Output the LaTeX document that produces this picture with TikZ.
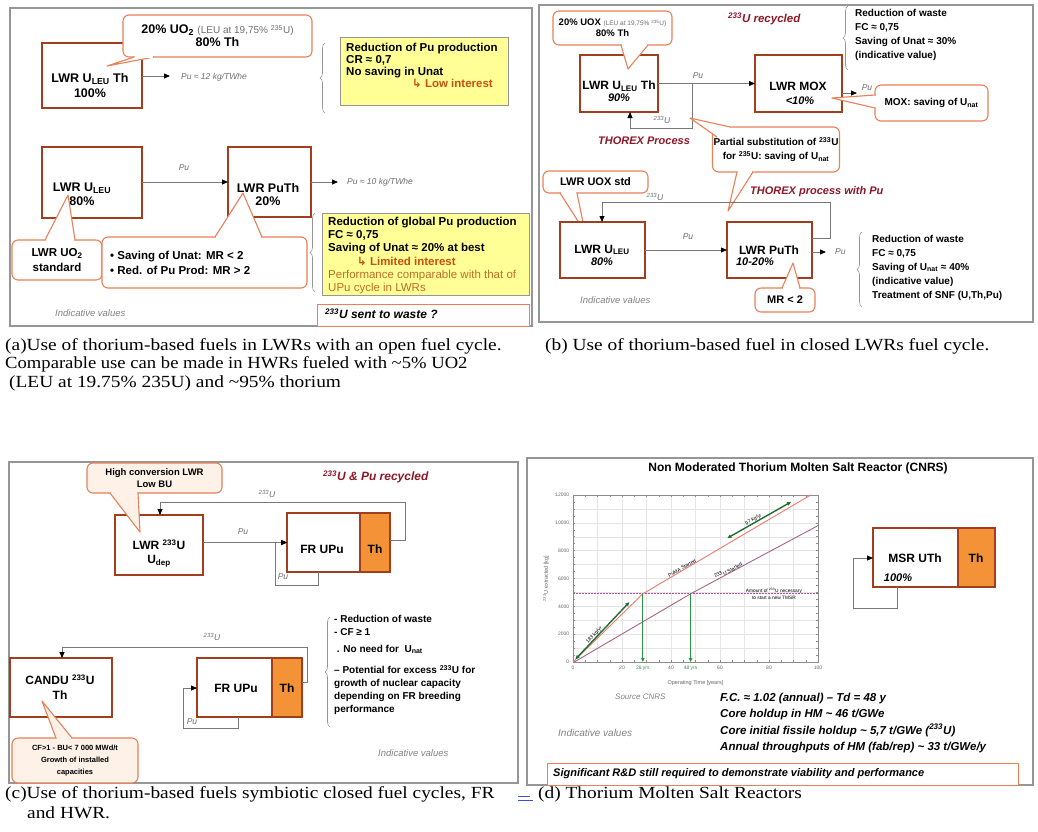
\documentclass[tikz,border=0pt]{standalone}
\usepackage{fontspec}
\setmainfont{Liberation Sans}
\newfontfamily\capfont[FakeStretch=1.14]{Liberation Serif}
\newfontfamily\capfontb[FakeStretch=1.096]{Liberation Serif}
\newfontfamily\symfont{DejaVu Sans}
\usetikzlibrary{arrows.meta,decorations.pathreplacing,calc}
\definecolor{framegray}{RGB}{150,150,150}
\definecolor{boxred}{RGB}{160,62,30}
\definecolor{thorange}{RGB}{243,146,55}
\definecolor{calor}{RGB}{232,128,88}
\definecolor{peach}{RGB}{253,241,232}
\definecolor{ylw}{RGB}{255,255,150}
\definecolor{ygray}{RGB}{150,150,150}
\definecolor{conngray}{RGB}{120,120,120}
\definecolor{notegray}{RGB}{110,110,110}
\definecolor{indgray}{RGB}{130,130,130}
\definecolor{tred}{RGB}{140,24,40}
\definecolor{otxt}{RGB}{200,80,20}
\definecolor{ptxt}{RGB}{190,110,40}
\definecolor{redc}{RGB}{240,120,110}
\definecolor{mauvec}{RGB}{170,100,130}
\definecolor{grc}{RGB}{40,150,70}
\definecolor{dgrc}{RGB}{30,110,50}
\definecolor{dotc}{RGB}{170,80,170}
\definecolor{linkblue}{RGB}{60,80,200}
\newcommand{\fz}[1]{\fontsize{#1}{#1}\selectfont}
\newcommand{\fzl}[2]{\fontsize{#1}{#2}\selectfont}
\newcommand{\calltail}[4]{%
  \draw[calor, line width=1.1pt, fill=#4, line join=round] #1 -- #2 -- #3;
  \draw[#4, line width=1.7pt, shorten <=1pt, shorten >=1pt] #1 -- #3;}
\tikzset{
  panel/.style={draw=framegray, line width=1.2pt},
  rbox/.style={draw=boxred, line width=2.6pt, fill=white, inner sep=0pt, outer sep=0pt},
  thbox/.style={rbox, fill=thorange},
  callbox/.style={draw=calor, line width=1.1pt, fill=white, rounded corners=6pt, inner sep=1pt, align=center, font=\bfseries\fz{10}},
  ybox/.style={draw=ygray, fill=ylw, line width=0.8pt, inner sep=0pt},
  obox/.style={draw=calor, fill=white, line width=1pt, inner sep=0pt},
  conn/.style={draw=conngray, line width=0.8pt},
  arr/.style={conn, -{Triangle[length=6pt,width=5pt,color=black]}},
  bxt/.style={inner sep=0pt, font=\bfseries\fz{12}},
  pct/.style={inner sep=0pt, font=\bfseries\itshape\fz{11}},
  note/.style={inner sep=0pt, text=notegray, font=\itshape\fz{8.5}},
  ind/.style={inner sep=0pt, text=indgray, font=\itshape\fz{9.5}, anchor=west},
  ttl/.style={inner sep=0pt, text=tred, font=\bfseries\itshape\fz{11.5}, anchor=west},
  txt/.style={inner sep=0pt, align=left, font=\bfseries\fz{10}},
  captxt/.style={inner sep=0pt, anchor=west, font=\capfont\fz{17}},
  bracestyle/.style={decorate, decoration={brace, amplitude=5pt}, draw=ygray, line width=0.6pt},
  gridl/.style={draw=black!10, line width=0.4pt},
  axl/.style={draw=black!45, line width=0.5pt},
  tick/.style={inner sep=0pt, text=black!60, font=\fz{5}},
  plab/.style={inner sep=0.5pt, font=\fz{5}, anchor=south},
}
\begin{document}
\begin{tikzpicture}[x=1pt,y=-1pt]
\useasboundingbox (0,0) rectangle (1038,831);
\fill[white] (0,0) rectangle (1038,831);

%================ Panel (a) ================
\draw[panel] (10,8) rectangle (532,326);
\node[rbox, minimum width=100, minimum height=65] (A1) at (92,75.5) {};
\node[bxt, font=\bfseries\fz{12.5}] (A1t) at (90,79) {LWR U\textsubscript{LEU} Th};
\node[bxt, font=\bfseries\fz{12.5}] (A1p) at (90,93) {100\%};
\node[rbox, minimum width=100, minimum height=71] (A2) at (92,182.5) {};
\node[bxt, font=\bfseries\fz{12.5}] (A2t) at (82,188) {LWR U\textsubscript{LEU}};
\node[bxt, font=\bfseries\fz{12.5}] (A2p) at (82,201) {80\%};
\node[rbox, minimum width=83, minimum height=70] (A3) at (269.5,182) {};
\node[bxt, font=\bfseries\fz{12.5}] (A3t) at (268,188) {LWR PuTh};
\node[bxt, font=\bfseries\fz{12.5}] (A3p) at (268,201) {20\%};

\coordinate (pa1) at (170,76);
\draw[arr] (A1.east |- pa1) -- (pa1);
\node[note, anchor=west] (pa1t) at (181,77) {Pu ≈ 12 kg/TWhe};
\draw[arr] (A2.east |- A3.west) -- (A3.west);
\node[note] (pa2t) at (184,168) {Pu};
\coordinate (pa3) at (338,182);
\draw[arr] (A3.east) -- (pa3);
\node[note, anchor=west] (pa3t) at (347,182) {Pu ≈ 10 kg/TWhe};

\node[callbox, minimum width=189, minimum height=42, font=\bfseries\fzl{12.5}{13}] (CA1) at (217.5,36)
  {20\% UO\textsubscript{2} {\mdseries\color{notegray}\fz{10}(LEU at 19,75\% \textsuperscript{235}U)}\\80\% Th};
\calltail{(134,57)}{(107,66)}{(154,57)}{white}

\draw[bracestyle] (325,113) -- (325,43);
\node[ybox, minimum width=168, minimum height=68] (Y1) at (424,71) {};
\node[txt, anchor=north west, font=\bfseries\fzl{11.5}{12}] (Y1t) at (346,43)
  {Reduction of Pu production\\CR ≈ 0,7\\No saving in Unat\\
   \hspace*{66pt}{\color{otxt}{\symfont ↳} Low interest}};

\node[callbox, minimum width=90, minimum height=40, font=\bfseries\fzl{11.5}{15}] (CA2) at (57,260) {LWR UO\textsubscript{2}\\standard};
\calltail{(45,240)}{(68,195)}{(75,240)}{white}
\node[callbox, minimum width=205, minimum height=51] (CA3) at (204.5,262.5) {};
\calltail{(215,237)}{(243,193)}{(262,237)}{white}
\node[txt, anchor=west, font=\bfseries\fzl{11.5}{15}] (CA3t) at (110,263)
  {• Saving of Unat: MR < 2\\• Red. of Pu Prod: MR > 2};

\draw[bracestyle] (315,292) -- (315,213);
\node[ybox, minimum width=207, minimum height=82] (Y2) at (425.5,254) {};
\node[txt, anchor=north west, font=\bfseries\fzl{11.5}{13.2}] (Y2t) at (328,217)
  {Reduction of global Pu production\\FC ≈ 0,75\\Saving of Unat ≈ 20\% at best\\
   \hspace*{29pt}{\color{otxt}{\symfont ↳} Limited interest}\\
   {\mdseries\color{ptxt}Performance comparable with that of}\\
   {\mdseries\color{ptxt}UPu cycle in LWRs}};

\node[ind] (Ia) at (55,313) {Indicative values};
\node[obox, minimum width=212, minimum height=22] (W) at (423,315) {};
\node[inner sep=0pt, anchor=west, font=\bfseries\itshape\fz{12}] (Wt) at (325,314) {\textsuperscript{233}U sent to waste ?};

\node[captxt] (capa1) at (5,346) {(a)Use of thorium-based fuels in LWRs with an open fuel cycle.};
\node[captxt, font=\capfontb\fz{17}] (capa2) at (5,364.5) {Comparable use can be made in HWRs fueled with \textasciitilde5\% UO2};
\node[captxt] (capa3) at (9,383) {(LEU at 19.75\% 235U) and \textasciitilde95\% thorium};

%================ Panel (b) ================
\draw[panel] (539,5) rectangle (1033,322);
\node[ttl] (Bt) at (728,19) {\textsuperscript{233}U recycled};
\node[rbox, minimum width=78, minimum height=57] (B1) at (619,83.5) {};
\node[bxt] (B1t) at (619,86) {LWR U\textsubscript{LEU} Th};
\node[pct] (B1p) at (619,98) {90\%};
\node[rbox, minimum width=87, minimum height=57] (B2) at (798.5,83.5) {};
\node[bxt] (B2t) at (798,86) {LWR MOX};
\node[pct] (B2p) at (800,101) {<10\%};
\draw[arr] (B1.east) -- (B2.west);
\node[note] (pb0t) at (698,76) {Pu};
\coordinate (bl1) at (692,83.5);
\coordinate (bl2) at (692,128);
\coordinate (bl3) at (630,128);
\draw[arr] (bl1) -- (bl2) -- (bl3) -- (bl3 |- B1.south);
\node[note] (bl3t) at (662,120) {\textsuperscript{233}U};
\coordinate (pb1) at (857,93);
\draw[arr] (B2.east |- pb1) -- (pb1);
\node[note] (pb1t) at (867,88) {Pu};

\node[callbox, minimum width=119, minimum height=34, font=\bfseries\fzl{9.5}{11}] (CB1) at (612.5,28)
  {20\% UOX {\mdseries\color{notegray}\fz{6.5}(LEU at 19,75\% \textsuperscript{235}U)}\\80\% Th};
\calltail{(621,45)}{(628,69)}{(648,45)}{white}
\node[callbox, minimum width=113, minimum height=36] (CB2) at (931.5,103) {MOX: saving of U\textsubscript{nat}};
\calltail{(875,95)}{(832,98)}{(875,108)}{white}

\draw[bracestyle] (848,70) -- (848,6);
\node[txt, anchor=north west, font=\bfseries\fzl{10}{14}] (Bbr1) at (855,9)
  {Reduction of waste\\FC ≈ 0,75\\Saving of Unat ≈ 30\%\\(indicative value)};

\node[ttl, font=\bfseries\itshape\fz{11}] (Bth1) at (598,141) {THOREX Process};
\node[callbox, minimum width=118, minimum height=45, font=\bfseries\fzl{10}{14}] (CB3) at (776,149.5)
  {Partial substitution of \textsuperscript{233}U\\for \textsuperscript{235}U: saving of U\textsubscript{nat}};
\calltail{(717,137)}{(690,118)}{(730,127)}{white}
\calltail{(737,172)}{(728,211)}{(753,172)}{white}

\node[callbox, minimum width=105, minimum height=22, font=\bfseries\fz{11}] (CB4) at (595.5,182) {LWR UOX std};
\calltail{(560,193)}{(585,232)}{(577,193)}{white}
\node[ttl, font=\bfseries\itshape\fz{11}] (Bth2) at (750,192) {THOREX process with Pu};

\node[rbox, minimum width=85, minimum height=56] (B3) at (602.5,250) {};
\node[bxt] (B3t) at (602,250) {LWR U\textsubscript{LEU}};
\node[pct] (B3p) at (602,262) {80\%};
\node[rbox, minimum width=85, minimum height=56] (B4) at (769.5,250) {};
\node[bxt] (B4t) at (769,250) {LWR PuTh};
\node[pct] (B4p) at (755,262) {10-20\%};
\draw[arr] (B3.east) -- (B4.west);
\node[note] (pb2t) at (688,237) {Pu};
\coordinate (bq1) at (830,238);
\coordinate (bq2) at (830,202);
\coordinate (bq3) at (602,202);
\draw[arr] (B4.east |- bq1) -- (bq1) -- (bq2) -- (bq3) -- (bq3 |- B3.north);
\node[note] (bq3t) at (655,197) {\textsuperscript{233}U};
\coordinate (pb2) at (826,252);
\draw[arr] (B4.east |- pb2) -- (pb2);
\node[note, anchor=west] (pb3t) at (835,252) {Pu};
\node[callbox, minimum width=60, minimum height=24, font=\bfseries\fz{11}] (CB5) at (785,300) {MR < 2};
\calltail{(782,288)}{(793,263)}{(800,288)}{white}

\draw[bracestyle] (862,307) -- (862,232);
\node[txt, anchor=north west, font=\bfseries\fzl{10}{14}] (Bbr2) at (872,235)
  {Reduction of waste\\FC ≈ 0,75\\Saving of U\textsubscript{nat} ≈ 40\%\\(indicative value)\\Treatment of SNF (U,Th,Pu)};
\node[ind] (Ib) at (580,300) {Indicative values};

\node[captxt] (capb) at (545,346) {(b) Use of thorium-based fuel in closed LWRs fuel cycle.};

%================ Panel (c) ================
\draw[panel] (9,462) rectangle (518,783);
\node[ttl, font=\bfseries\itshape\fz{12}] (Ct) at (323,477) {\textsuperscript{233}U \& Pu recycled};
\node[rbox, minimum width=88, minimum height=60] (C1) at (159,545) {};
\node[bxt] (C1t) at (159,545) {LWR \textsuperscript{233}U};
\node[bxt] (C1p) at (159,561) {U\textsubscript{dep}};
\node[rbox, minimum width=103, minimum height=59] (C2) at (338.5,542.5) {};
\node[thbox, minimum width=30, minimum height=59] (C2th) at (375,542.5) {};
\node[bxt] (C2t) at (322,549) {FR UPu};
\node[bxt] (C2h) at (375,549) {Th};
\draw[arr] (C1.east |- C2.west) -- (C2.west);
\node[note] (c1t) at (243,532) {Pu};
\coordinate (cq1) at (405,540);
\coordinate (cq2) at (405,502);
\coordinate (cq3) at (160,502);
\draw[arr] (C2th.east |- cq1) -- (cq1) -- (cq2) -- (cq3) -- (cq3 |- C1.north);
\node[note] (cq3t) at (267,494) {\textsuperscript{233}U};
\coordinate (cr1) at (318,585);
\coordinate (cr2) at (275,585);
\draw[arr] (cr1 |- C2.south) -- (cr1) -- (cr2) -- (cr2 |- C2.west) -- (C2.west);
\node[note] (cr2t) at (283,577) {Pu};
\node[callbox, fill=peach, minimum width=135, minimum height=30, font=\bfseries\fzl{9.5}{11.5}] (CC1) at (154.5,478) {High conversion LWR\\Low BU};
\calltail{(110,493)}{(140,532)}{(138,493)}{peach}

\node[rbox, minimum width=102, minimum height=59] (C3) at (61,687.5) {};
\node[bxt] (C3t) at (60,680) {CANDU \textsuperscript{233}U};
\node[bxt] (C3p) at (60,695) {Th};
\node[rbox, minimum width=105, minimum height=59] (C4) at (249.5,687.5) {};
\node[thbox, minimum width=30, minimum height=59] (C4th) at (287,687.5) {};
\node[bxt] (C4t) at (236,688) {FR UPu};
\node[bxt] (C4h) at (287,688) {Th};
\coordinate (cs1) at (307,682);
\coordinate (cs2) at (307,647);
\coordinate (cs3) at (62,647);
\draw[arr] (C4th.east |- cs1) -- (cs1) -- (cs2) -- (cs3) -- (cs3 |- C3.north);
\node[note] (cs3t) at (212,637) {\textsuperscript{233}U};
\coordinate (ct1) at (238,728);
\coordinate (ct2) at (183,728);
\coordinate (ct3) at (183,688);
\draw[arr] (ct1 |- C4.south) -- (ct1) -- (ct2) -- (ct3) -- (C4.west |- ct3);
\node[note] (ct2t) at (192,722) {Pu};
\node[callbox, fill=peach, minimum width=126, minimum height=45, font=\bfseries\fzl{7.5}{12}] (CC2) at (75,760.5)
  {CF>1 - BU< 7 000 MWd/t\\Growth of installed\\capacities};
\calltail{(56,738)}{(42,701)}{(72,738)}{peach}

\draw[bracestyle] (330,727) -- (330,617);
\node[txt, anchor=north west, font=\bfseries\fzl{10}{12.8}] (Cbr) at (334,615)
  {- Reduction of waste\\- CF ≥ 1\\[4pt]\ . No need for\ \ U\textsubscript{nat}\\[9pt]
   – Potential for excess \textsuperscript{233}U for\\growth of nuclear capacity\\depending on FR breeding\\performance};
\node[ind] (Ic) at (378,753) {Indicative values};

\node[captxt] (capc1) at (5,794) {(c)Use of thorium-based fuels symbiotic closed fuel cycles, FR};
\node[captxt] (capc2) at (27,813) {and HWR.};
\draw[linkblue, line width=0.7pt] (518,796) -- (530,796) (518,800) -- (533,800);

%================ Panel (d) ================
\draw[panel] (527,458) rectangle (1033,785);
\node[inner sep=0pt, font=\bfseries\fz{12}] (Dt) at (798,468) {Non Moderated Thorium Molten Salt Reactor (CNRS)};

\begin{scope}[shift={(573,662)}, x=2.45pt, y=13.92pt]
  \foreach \i in {10,20,...,90} \draw[gridl] (\i,0) -- (\i,12);
  \foreach \j in {1,...,11} \draw[gridl] (0,\j) -- (100,\j);
  \draw[axl] (0,0) rectangle (100,12);
  \foreach \i in {0,5,...,100} {\draw[axl] (\i,0) -- (\i,0.18); \draw[axl] (\i,12) -- (\i,11.82);}
  \foreach \j in {1,...,23} {\draw[axl] (0,\j/2) -- (1,\j/2); \draw[axl] (100,\j/2) -- (99,\j/2);}
  \foreach \i in {0,20,40,60,80,100} \node[tick, anchor=north] (xt\i) at (\i,-0.3) {\i};
  \foreach \j/\l in {0/0,2/2000,4/4000,6/6000,8/8000,10/10000,12/12000} \node[tick, anchor=east] (yt\j) at (-1.5,\j) {\l};
  \node[tick, rotate=90, font=\fz{5.5}] (ylab) at (-11,6) {\textsuperscript{233}U extracted [kg]};
  \node[tick, anchor=north, font=\fz{5.5}] (xlab) at (50,-1.3) {Operating Time [years]};
  \draw[dotc, line width=0.8pt, dash pattern=on 1.5pt off 1.5pt] (0,4.9) -- (100,4.9);
  \draw[redc, line width=0.9pt] (0,0) -- (28.5,4.9) -- (97,12);
  \draw[mauvec, line width=0.9pt] (0.5,0) -- (48,4.9) -- (100,9.8);
  \coordinate (g1a) at (28.5,4.9); \coordinate (g1b) at (28.5,0);
  \coordinate (g2a) at (48,4.9); \coordinate (g2b) at (48,0);
  \draw[grc, line width=1.2pt, -{Triangle[length=4pt,width=3.5pt]}] (g1a) -- (g1b);
  \draw[grc, line width=1.2pt, -{Triangle[length=4pt,width=3.5pt]}] (g2a) -- (g2b);
  \coordinate (h1a) at (1,0.2); \coordinate (h1b) at (23,4.3);
  \coordinate (h2a) at (63,8.9); \coordinate (h2b) at (89,11.5);
  \draw[dgrc, line width=1.4pt, {Triangle[length=4pt,width=3.5pt]}-{Triangle[length=4pt,width=3.5pt]}] (h1a) -- (h1b);
  \draw[dgrc, line width=1.4pt, {Triangle[length=4pt,width=3.5pt]}-{Triangle[length=4pt,width=3.5pt]}] (h2a) -- (h2b);
  \node[plab, rotate=46] (l183) at (9.5,1.8) {183 kg/yr};
  \node[plab, rotate=30] (lpuma) at (45,6.6) {PuMA Started};
  \node[plab, rotate=28] (lu233) at (64,6.37) {\textsuperscript{233}U Started};
  \node[plab, rotate=30] (l97) at (74.3,10.05) {97 kg/yr};
  \node[inner sep=0pt, align=center, font=\fzl{4.8}{7}] (lamt) at (82,4.9) {Amount of \textsuperscript{233}U necessary\\to start a new TMSR};
  \node[tick, text=grc, anchor=north] (l28) at (28.5,-0.3) {28 yrs};
  \node[tick, text=grc, anchor=north] (l48) at (48,-0.3) {48 yrs};
\end{scope}

\node[rbox, minimum width=122, minimum height=59] (D1) at (934,557.5) {};
\node[thbox, minimum width=37, minimum height=59] (D1th) at (976.5,557.5) {};
\node[bxt] (D1t) at (915,558) {MSR UTh};
\node[pct] (D1p) at (898,578) {100\%};
\node[bxt] (D1h) at (976,558) {Th};
\coordinate (dq1) at (897,608);
\coordinate (dq2) at (853,608);
\coordinate (dq3) at (853,558);
\draw[arr] (dq1 |- D1.south) -- (dq1) -- (dq2) -- (dq3) -- (D1.west |- dq3);

\node[ind, font=\itshape\fz{8}] (Src) at (615,697) {Source CNRS};
\node[ind, font=\itshape\fz{10}] (Id) at (558,733) {Indicative values};
\node[txt, anchor=north west, font=\bfseries\itshape\fzl{11.5}{16.3}] (Dtx) at (720,693)
  {F.C. ≈ 1.02 (annual) – Td = 48 y\\Core holdup in HM \textasciitilde{} 46 t/GWe\\
   Core initial fissile holdup \textasciitilde{} 5,7 t/GWe (\textsuperscript{233}U)\\
   Annual throughputs of HM (fab/rep) \textasciitilde{} 33 t/GWe/y};
\node[obox, minimum width=471, minimum height=22] (RD) at (782.5,774) {};
\node[inner sep=0pt, anchor=west, font=\bfseries\itshape\fz{11}] (RDt) at (553,774) {Significant R\&D still required to demonstrate viability and performance};

\node[captxt] (capd) at (538,794) {(d) Thorium Molten Salt Reactors};
\end{tikzpicture}
\end{document}
